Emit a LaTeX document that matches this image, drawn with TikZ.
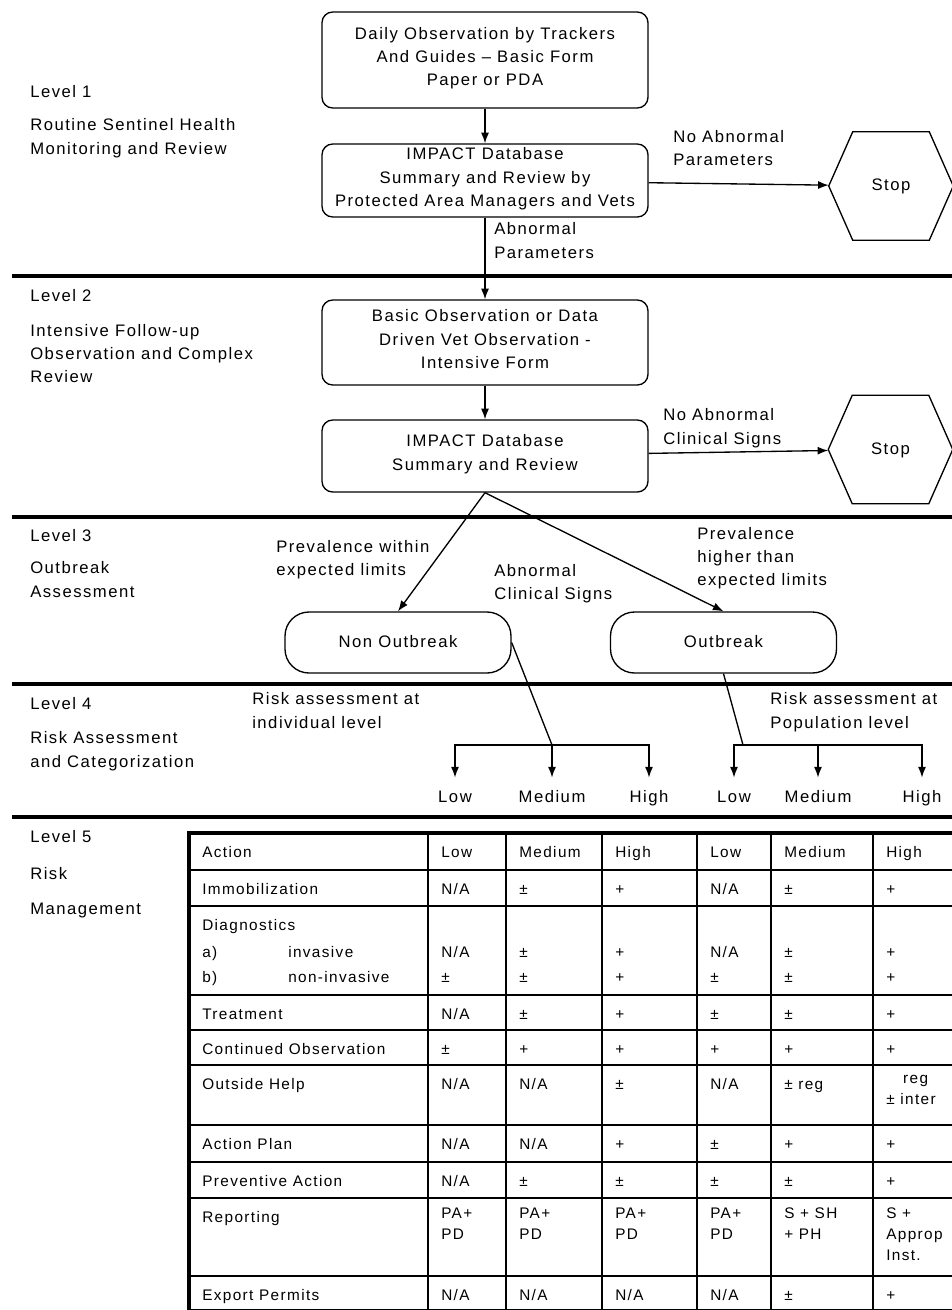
\documentclass[tikz,border=0pt]{standalone}
\usepackage{fontspec}
\setmainfont{Liberation Sans}[LetterSpace=9]
\usetikzlibrary{arrows.meta}
\begin{document}
\begin{tikzpicture}[x=0.75pt,y=-0.75pt,
	every node/.style={font=\fontsize{12.5}{17.6}\selectfont,execute at begin node=\strut,execute at end node=\strut},
	>={Latex[length=8pt,width=6pt]},
	box/.style={draw,rounded corners=8pt,line width=1pt,minimum width=244.5pt,inner ysep=0pt,align=center,
		execute at begin node={\rule{0pt}{\dimexpr0.7\baselineskip+4pt\relax}}},
	pill/.style={draw,rounded corners=18pt,line width=1pt,minimum width=169.5pt,minimum height=45.75pt},
	stopbox/.style={minimum width=93pt,minimum height=81pt},
	lbl/.style={anchor=west,align=left,inner sep=0pt},
	cell/.style={anchor=north west,align=left,inner sep=0pt,font=\fontsize{11.5}{15.75}\selectfont},
	levelline/.style={line width=3pt},
	tabline/.style={line width=1.2pt},
	arr/.style={->,line width=1pt}]
	\useasboundingbox (0,0) rectangle (951,1310);
	% level separators
	\foreach \y in {276,517,684,817}
		\draw[levelline] (12,\y) -- (960,\y);
	% level labels
	\node[lbl] (lv1) at (30,93) {Level 1};
	\node[lbl] (lv1txt) at (30,140) {Routine Sentinel Health\\Monitoring and Review};
	\node[lbl] (lv2) at (30,297) {Level 2};
	\node[lbl] (lv2txt) at (30,357) {Intensive Follow-up\\Observation and Complex\\Review};
	\node[lbl] (lv3) at (30,537) {Level 3};
	\node[lbl] (lv3txt) at (30,583) {Outbreak\\Assessment};
	\node[lbl] (lv4) at (30,705) {Level 4};
	\node[lbl] (lv4txt) at (30,753) {Risk Assessment\\and Categorization};
	\node[lbl] (lv5) at (30,838) {Level 5};
	\node[lbl] (lv5a) at (30,875) {Risk};
	\node[lbl] (lv5b) at (30,910) {Management};
	% flow
	\node[box,minimum height=72pt] (daily) at (485,60) {Daily Observation by Trackers\\And Guides – Basic Form\\Paper or PDA};
	\node[box,minimum height=54.75pt] (review1) at (485,180.5) {IMPACT Database\\Summary and Review by\\Protected Area Managers and Vets};
	\node[box,minimum height=63.75pt] (intens) at (485,342.5) {Basic Observation or Data\\Driven Vet Observation -\\Intensive Form};
	\node[box,minimum height=54pt] (review2) at (485,456) {IMPACT Database\\Summary and Review};
	\node[stopbox] (stop1) at (891,186) {Stop};
	\node[stopbox] (stop2) at (890.5,449.5) {Stop};
	\foreach \s in {stop1,stop2}
		\draw[line width=1pt] (\s.west) -- ([shift={(24,0)}]\s.north west) -- ([shift={(-24,0)}]\s.north east)
			-- (\s.east) -- ([shift={(-24,0)}]\s.south east) -- ([shift={(24,0)}]\s.south west) -- cycle;
	\node[pill] (nonout) at (398,642.5) {Non Outbreak};
	\node[pill] (outbr) at (723.5,642.5) {Outbreak};
	\draw[arr] (daily) -- (review1);
	\draw[arr] (review1) -- (intens);
	\draw[arr] (review1) -- (stop1);
	\draw[arr] (intens) -- (review2);
	\draw[arr] (review2) -- (stop2);
	\draw[arr] (review2.south) -- (nonout.north);
	\draw[arr] (review2.south) -- (outbr.north);
	% connector labels
	\node[lbl] (noabn1) at (673,151.5) {No Abnormal\\Parameters};
	\node[lbl] (abn1) at (494,244) {Abnormal\\Parameters};
	\node[lbl] (noabn2) at (663,430) {No Abnormal\\Clinical Signs};
	\node[lbl] (prevwithin) at (276,561.5) {Prevalence within\\expected limits};
	\node[lbl] (abn2) at (494,585.5) {Abnormal\\Clinical Signs};
	\node[lbl] (prevhigher) at (697,560) {Prevalence\\higher than\\expected limits};
	\node[lbl] (riskind) at (252,714) {Risk assessment at\\individual level};
	\node[lbl] (riskpop) at (770,714) {Risk assessment at\\Population level};
	% risk levels
	\coordinate (jind) at (552,745);
	\coordinate (jpop) at (743,745);
	\draw[line width=1pt] (nonout.east) -- (jind);
	\draw[line width=1pt] (outbr.south) -- (jpop);
	\foreach \x/\t/\n in {455/Low/il,552/Medium/im,649/High/ih,734/Low/pl,818/Medium/pm,922/High/ph}
		\node (\n) at (\x,798) {\t};
	\foreach \n in {il,im,ih}
		\draw[arr,shorten >=3pt] (jind) -| (\n);
	\foreach \n in {pl,pm,ph}
		\draw[arr,shorten >=3pt] (jpop) -| (\n);
	% table
	\foreach \x in {428,506,602,697,771,873}
		\draw[tabline] (\x,833) -- (\x,1311);
	\foreach \y in {870,906,995,1030,1065,1125,1162,1198,1276}
		\draw[tabline] (189,\y) -- (960,\y);
	\draw[line width=2.5pt] (960,833) -- (189,833) -- (189,1311) -- (960,1311);
	\foreach \ty/\r/\ca/\cb/\cc/\cd/\ce/\cf/\cg in {
		833/0/Action/Low/Medium/High/Low/Medium/High,
		870/1/Immobilization/{N/A}/±/+/{N/A}/±/+,
		995/3/Treatment/{N/A}/±/+/±/±/+,
		1030/4/Continued Observation/±/+/+/+/+/+,
		1065/5/Outside Help/{N/A}/{N/A}/±/{N/A}/± reg/{\hspace*{1.1em}reg\\± inter},
		1125/6/Action Plan/{N/A}/{N/A}/+/±/+/+,
		1162/7/Preventive Action/{N/A}/±/±/±/±/+,
		1198/8/Reporting/{PA+\\PD}/{PA+\\PD}/{PA+\\PD}/{PA+\\PD}/{S + SH\\+ PH}/{S +\\Approp\\Inst.},
		1276/9/Export Permits/{N/A}/{N/A}/{N/A}/{N/A}/±/+}
	{
		\node[cell] (c\r-1) at (202,\ty+10) {\ca};
		\node[cell] (c\r-2) at (441,\ty+10) {\cb};
		\node[cell] (c\r-3) at (519,\ty+10) {\cc};
		\node[cell] (c\r-4) at (615,\ty+10) {\cd};
		\node[cell] (c\r-5) at (710,\ty+10) {\ce};
		\node[cell] (c\r-6) at (784,\ty+10) {\cf};
		\node[cell] (c\r-7) at (886,\ty+10) {\cg};
	}
	\node[cell] (c2-1) at (202,916) {Diagnostics};
	\node[cell] (c2-a) at (202,943) {a)};
	\node[cell] (c2-ai) at (288,943) {invasive};
	\node[cell] (c2-b) at (202,968) {b)};
	\node[cell] (c2-bi) at (288,968) {non-invasive};
	\foreach \x/\p/\q [count=\k from 2] in {441/{N/A}/±,519/±/±,615/+/+,710/{N/A}/±,784/±/±,886/+/+}
	{
		\node[cell] (c2-\k-a) at (\x,943) {\p};
		\node[cell] (c2-\k-b) at (\x,968) {\q};
	}
\end{tikzpicture}
\end{document}
